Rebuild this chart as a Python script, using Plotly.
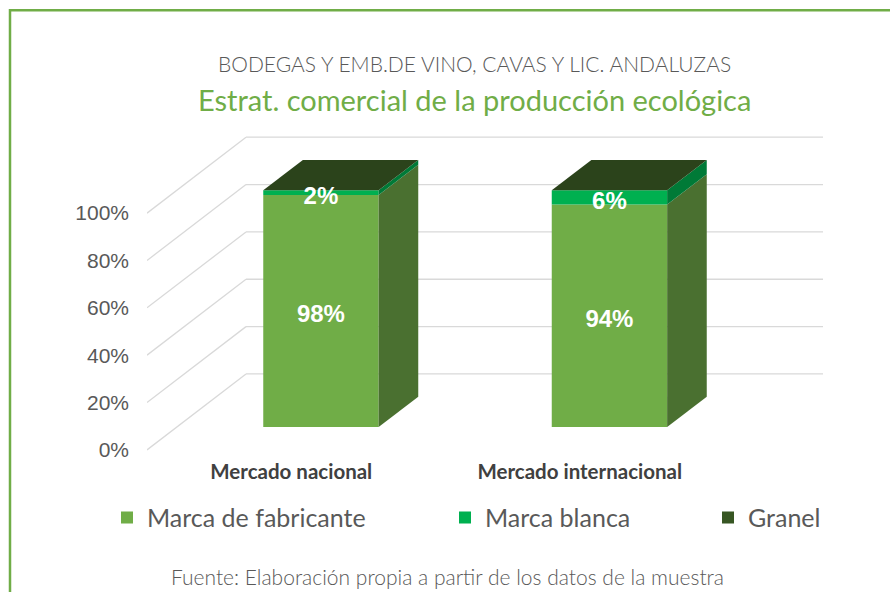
import plotly.graph_objects as go

# ---------------- data ----------------
categories = ["Mercado nacional", "Mercado internacional"]
series_names = ["Marca de fabricante", "Marca blanca", "Granel"]
marca_fabricante = [98, 94]
marca_blanca = [2, 6]
granel = [0, 0]
y_ticks = [0, 20, 40, 60, 80, 100]

title_top = "BODEGAS Y EMB.DE VINO, CAVAS Y LIC. ANDALUZAS"
title_main = "Estrat. comercial de la producción ecológica"
source_txt = "Fuente: Elaboración propia a partir de los datos de la muestra"

# ---------------- style ----------------
front_colors = ["#70AD47", "#00B050", "#375623"]
side_colors = ["#4A7030", "#007A37", "#263D18"]
top_color = "#2B431B"
grid_color = "#D9D9D9"
calibri = "Lato, 'Open Sans', sans-serif"
arial = "'Liberation Sans', Arial, sans-serif"

W, H = 890, 592
PX_L = 147.0        # left edge of front plane (px)
PX_CAT = 288.5      # px per category unit
PX_PCT = 2.37       # px per percent
Y0_PX = 450.0       # px of 0% on front plane
DEPTH_DX_PX, DEPTH_DY_PX = 99.0, 76.0

DX = DEPTH_DX_PX / PX_CAT
DY = DEPTH_DY_PX / PX_PCT
x_lo, x_hi = -0.5, 1.5 + DX
y_lo, y_hi = -3.0, 133.0

m_l = PX_L
m_r = W - (PX_L + (x_hi - x_lo) * PX_CAT)
m_t = Y0_PX - y_hi * PX_PCT
m_b = H - (Y0_PX - y_lo * PX_PCT)
plot_w = W - m_l - m_r
plot_h = H - m_t - m_b


def px_x(px):
    return (px - m_l) / plot_w


def px_y(py):
    return (H - m_b - py) / plot_h


BAR_W = 0.4
D_FRONT, D_BACK = 0.3, 0.7
ox, oy = D_FRONT * DX, D_FRONT * DY
bdx, bdy = (D_BACK - D_FRONT) * DX, (D_BACK - D_FRONT) * DY

fig = go.Figure()
series_vals = [marca_fabricante, marca_blanca, granel]
n = len(categories)
xs = list(range(n))

# side faces
for s, vals in enumerate(series_vals):
    for i in xs:
        a = sum(series_vals[k][i] for k in range(s))
        b = a + vals[i]
        if vals[i] <= 0:
            continue
        xr = i + ox + BAR_W / 2
        px = [xr, xr + bdx, xr + bdx, xr, xr]
        py = [a + oy, a + oy + bdy, b + oy + bdy, b + oy, a + oy]
        fig.add_trace(go.Scatter(x=px, y=py, fill="toself", mode="lines",
                                 line=dict(width=0), fillcolor=side_colors[s],
                                 showlegend=False, hoverinfo="skip"))

# top faces
for i in xs:
    t = sum(series_vals[k][i] for k in range(len(series_vals)))
    xl, xr = i + ox - BAR_W / 2, i + ox + BAR_W / 2
    px = [xl, xr, xr + bdx, xl + bdx, xl]
    py = [t + oy, t + oy, t + oy + bdy, t + oy + bdy, t + oy]
    fig.add_trace(go.Scatter(x=px, y=py, fill="toself", mode="lines",
                             line=dict(width=0), fillcolor=top_color,
                             showlegend=False, hoverinfo="skip"))

# front faces (bars)
legend_ids = ["legend", "legend2", "legend3"]
for s, vals in enumerate(series_vals):
    bases = [sum(series_vals[k][i] for k in range(s)) + oy for i in xs]
    fig.add_trace(go.Bar(x=[i + ox for i in xs], y=vals, base=bases, width=BAR_W,
                         name=series_names[s], marker=dict(color=front_colors[s], line=dict(width=0)),
                         legend=legend_ids[s], hoverinfo="skip"))

# data labels
for s, vals in enumerate(series_vals[:2]):
    lx, ly, lt = [], [], []
    for i in xs:
        a = sum(series_vals[k][i] for k in range(s))
        lx.append(i + ox)
        ly.append(a + vals[i] / 2 + oy - 2.2)
        lt.append(f"{vals[i]}%")
    fig.add_trace(go.Scatter(x=lx, y=ly, text=lt, mode="text", textposition="middle center",
                             textfont=dict(family=arial, size=24, color="white", weight="bold"),
                             showlegend=False, hoverinfo="skip"))

# gridlines (back wall + side wall)
shapes = []
for v in y_ticks:
    shapes.append(dict(type="line", xref="x", yref="y", x0=x_lo + DX, y0=v + DY, x1=x_hi, y1=v + DY,
                       line=dict(color=grid_color, width=1.3), layer="below"))
    shapes.append(dict(type="line", xref="x", yref="y", x0=x_lo, y0=v, x1=x_lo + DX, y1=v + DY,
                       line=dict(color=grid_color, width=1.3), layer="below"))
# outer border
shapes.append(dict(type="rect", xref="paper", yref="paper", x0=px_x(10), y0=px_y(10),
                   x1=px_x(W + 10), y1=px_y(H + 10), line=dict(color="#70AD47", width=2.5),
                   fillcolor="rgba(0,0,0,0)"))

annotations = [
    dict(text=title_top, x=px_x(474), y=px_y(63), xref="paper", yref="paper", showarrow=False,
         font=dict(family=calibri, size=21, color="#595959", weight=300), xanchor="center", yanchor="middle"),
    dict(text=title_main, x=px_x(474), y=px_y(99), xref="paper", yref="paper", showarrow=False,
         font=dict(family=calibri, size=29, color="#70AD47", weight=400), xanchor="center", yanchor="middle"),
    dict(text=source_txt, x=px_x(447), y=px_y(577), xref="paper", yref="paper", showarrow=False,
         font=dict(family=calibri, size=21, color="#595959", weight=300), xanchor="center", yanchor="middle"),
]

leg_common = dict(orientation="h", yanchor="middle", xanchor="left",
                  font=dict(family=calibri, size=25, color="#595959"),
                  bgcolor="rgba(0,0,0,0)", borderwidth=0)
legend_px = [107, 445, 708]

fig.update_layout(
    width=W, height=H,
    margin=dict(l=m_l, r=m_r, t=m_t, b=m_b, autoexpand=False),
    paper_bgcolor="white", plot_bgcolor="rgba(0,0,0,0)",
    barmode="overlay",
    xaxis=dict(range=[x_lo, x_hi], tickvals=xs, ticktext=[f"<b>{c}</b>" for c in categories],
               showgrid=False, zeroline=False, showline=False, ticks="",
               tickfont=dict(family=calibri, size=20.5, color="#404040")),
    yaxis=dict(range=[y_lo, y_hi], tickvals=y_ticks, ticktext=[f"{v}%" for v in y_ticks],
               showgrid=False, zeroline=False, showline=False, ticks="",
               ticklabelstandoff=17,
               tickfont=dict(family=arial, size=21, color="#595959")),
    shapes=shapes, annotations=annotations,
    legend=dict(x=px_x(legend_px[0]), y=px_y(518), **leg_common),
    legend2=dict(x=px_x(legend_px[1]), y=px_y(518), **leg_common),
    legend3=dict(x=px_x(legend_px[2]), y=px_y(518), **leg_common),
)

fig.write_html("out.html", config={"displayModeBar": False},
               post_script="document.body.style.margin='0';")
